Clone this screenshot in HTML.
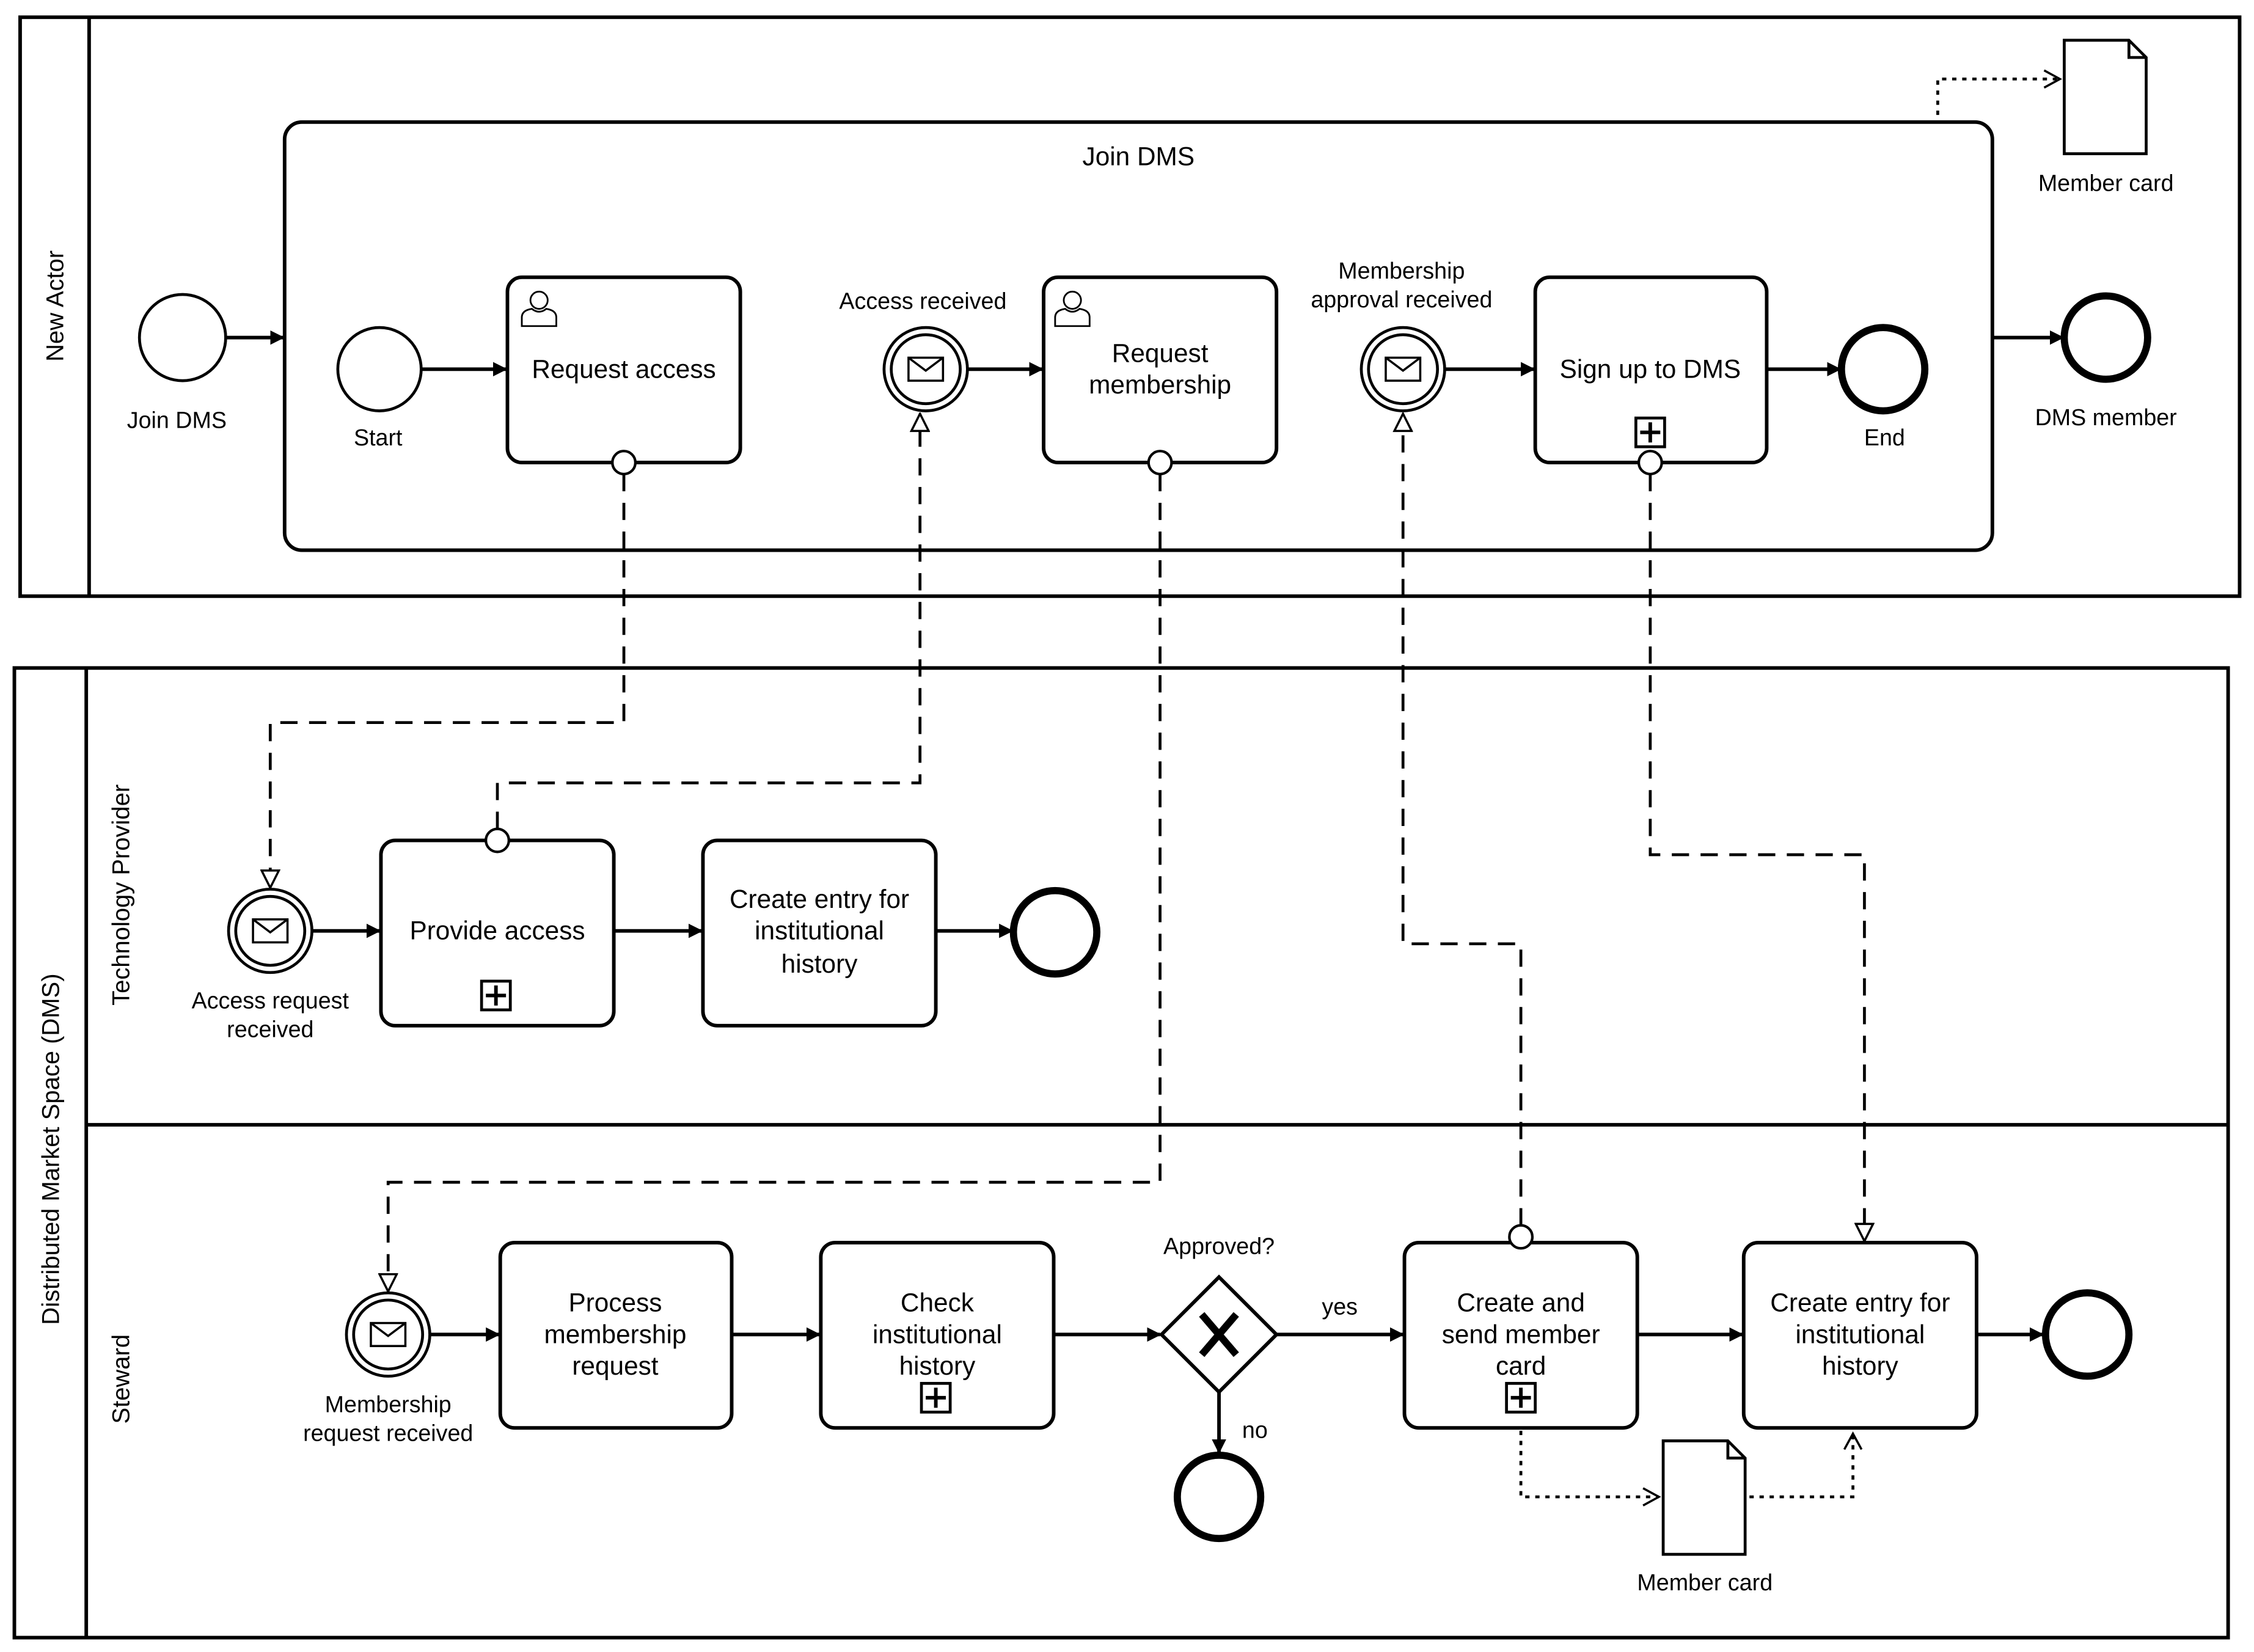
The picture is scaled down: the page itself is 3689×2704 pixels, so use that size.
<!DOCTYPE html>
<html><head><meta charset="utf-8"><style>
html,body{margin:0;padding:0;background:#fff}
svg{display:block}
text{font-family:"Liberation Sans",sans-serif;fill:#000}
</style></head><body>
<svg width="3689" height="2704" viewBox="0 0 1568 1150" preserveAspectRatio="none" xmlns="http://www.w3.org/2000/svg">
<defs>
<marker id="a" markerWidth="10" markerHeight="10" refX="9" refY="5" orient="auto" markerUnits="userSpaceOnUse"><path d="M0,0 L10,5 L0,10 Z" fill="#000"/></marker>
<marker id="m" markerWidth="14" markerHeight="14" refX="13" refY="7" orient="auto" markerUnits="userSpaceOnUse"><path d="M1,1 L13,7 L1,13 Z" fill="#fff" stroke="#000" stroke-width="1.5"/></marker>
<marker id="o" markerWidth="14" markerHeight="14" refX="12" refY="7" orient="auto" markerUnits="userSpaceOnUse"><path d="M1,1 L12,7 L1,13" fill="none" stroke="#000" stroke-width="1.5"/></marker>
<g id="env"><rect x="-12" y="-8" width="24" height="16" fill="#fff" stroke="#000" stroke-width="1.5"/><path d="M-12,-8 L0,1 L12,-8" fill="none" stroke="#000" stroke-width="1.5"/></g>
<g id="plus"><rect x="-10" y="-10" width="20" height="20" fill="#fff" stroke="#000" stroke-width="2"/><path d="M0,-7 V7 M-7,0 H7" stroke="#000" stroke-width="2.5"/></g>
<g id="user"><circle cx="0" cy="-6" r="6" fill="#fff" stroke="#000" stroke-width="1.2"/><path d="M-12,12 V6 Q-12,1 -5,0 Q0,4 5,0 Q12,1 12,6 V12 Z" fill="#fff" stroke="#000" stroke-width="1.2"/></g>
<g id="doc"><path d="M0,0 H45 L57,12 V79 H0 Z M45,0 V12 H57" fill="#fff" stroke="#000" stroke-width="2"/></g>
</defs>
<g fill="none" stroke="#000" stroke-width="2.5">
<!-- Pool 1 -->
<rect x="14" y="12" width="1544" height="403"/>
<line x1="62" y1="12" x2="62" y2="415"/>
<rect x="198" y="85" width="1188" height="298" rx="12"/>
<!-- Pool 2 -->
<rect x="10" y="465" width="1540" height="675"/>
<line x1="60" y1="465" x2="60" y2="1140"/>
<line x1="60" y1="783" x2="1550" y2="783"/>
</g>
<text transform="translate(44,213) rotate(-90)" font-size="17" text-anchor="middle">New Actor</text>
<text transform="translate(41,800) rotate(-90)" font-size="17" text-anchor="middle">Distributed Market Space (DMS)</text>
<text transform="translate(90,623) rotate(-90)" font-size="17" text-anchor="middle">Technology Provider</text>
<text transform="translate(90,960) rotate(-90)" font-size="17" text-anchor="middle">Steward</text>

<!-- tasks -->
<g fill="#fff" stroke="#000" stroke-width="2.5">
<rect x="353" y="193" width="162" height="129" rx="10"/>
<rect x="726" y="193" width="162" height="129" rx="10"/>
<rect x="1068" y="193" width="161" height="129" rx="10"/>
<rect x="265" y="585" width="162" height="129" rx="10"/>
<rect x="489" y="585" width="162" height="129" rx="10"/>
<rect x="348" y="865" width="161" height="129" rx="10"/>
<rect x="571" y="865" width="162" height="129" rx="10"/>
<rect x="977" y="865" width="162" height="129" rx="10"/>
<rect x="1213" y="865" width="162" height="129" rx="10"/>
</g>
<use href="#user" x="375" y="215"/>
<use href="#user" x="746" y="215"/>
<use href="#plus" x="1148" y="301"/>
<use href="#plus" x="345" y="693"/>
<use href="#plus" x="651" y="973"/>
<use href="#plus" x="1058" y="973"/>

<!-- events -->
<g fill="#fff" stroke="#000" stroke-width="2">
<circle cx="127" cy="235" r="30"/>
<circle cx="264" cy="257" r="29"/>
<circle cx="644" cy="257" r="29"/><circle cx="644" cy="257" r="24"/>
<circle cx="976" cy="257" r="29"/><circle cx="976" cy="257" r="24"/>
<circle cx="188" cy="648" r="29"/><circle cx="188" cy="648" r="24"/>
<circle cx="270" cy="929" r="29"/><circle cx="270" cy="929" r="24"/>
</g>
<g fill="#fff" stroke="#000" stroke-width="5">
<circle cx="1310" cy="257" r="29"/>
<circle cx="1465" cy="235" r="29"/>
<circle cx="734" cy="649" r="29"/>
<circle cx="848" cy="1042" r="29"/>
<circle cx="1452" cy="929" r="29"/>
</g>
<use href="#env" x="644" y="257"/>
<use href="#env" x="976" y="257"/>
<use href="#env" x="188" y="648"/>
<use href="#env" x="270" y="929"/>

<!-- gateway -->
<path d="M848,889 L888,929 L848,969 L808,929 Z" fill="#fff" stroke="#000" stroke-width="2.5"/>
<path d="M836,915 L860,943 M860,915 L836,943" stroke="#000" stroke-width="5"/>

<!-- sequence flows -->
<g stroke="#000" stroke-width="2.5" marker-end="url(#a)">
<line x1="157" y1="235" x2="197" y2="235"/>
<line x1="293" y1="257" x2="352" y2="257"/>
<line x1="673" y1="257" x2="725" y2="257"/>
<line x1="1005" y1="257" x2="1067" y2="257"/>
<line x1="1229" y1="257" x2="1280" y2="257"/>
<line x1="1386" y1="235" x2="1435" y2="235"/>
<line x1="217" y1="648" x2="264" y2="648"/>
<line x1="427" y1="648" x2="488" y2="648"/>
<line x1="651" y1="648" x2="704" y2="648"/>
<line x1="299" y1="929" x2="347" y2="929"/>
<line x1="509" y1="929" x2="570" y2="929"/>
<line x1="733" y1="929" x2="807" y2="929"/>
<line x1="888" y1="929" x2="976" y2="929"/>
<line x1="848" y1="969" x2="848" y2="1011"/>
<line x1="1139" y1="929" x2="1212" y2="929"/>
<line x1="1375" y1="929" x2="1421" y2="929"/>
</g>

<!-- message flows -->
<g fill="none" stroke="#000" stroke-width="2" stroke-dasharray="12 8">
<path d="M434,330 V503 H188 V618" marker-end="url(#m)"/>
<path d="M346,577 V545 H640 V288" marker-end="url(#m)"/>
<path d="M807,330 V823 H270 V899" marker-end="url(#m)"/>
<path d="M1058,853 V657 H976 V288" marker-end="url(#m)"/>
<path d="M1148,330 V595 H1297 V864" marker-end="url(#m)"/>
</g>
<g fill="#fff" stroke="#000" stroke-width="1.8">
<circle cx="434" cy="322" r="8"/>
<circle cx="807" cy="322" r="8"/>
<circle cx="1148" cy="322" r="8"/>
<circle cx="346" cy="585" r="8"/>
<circle cx="1058" cy="861" r="8"/>
</g>

<!-- data objects & associations -->
<use href="#doc" x="1436" y="28"/>
<use href="#doc" x="1157" y="1003"/>
<g fill="none" stroke="#000" stroke-width="2" stroke-dasharray="3 4">
<path d="M1348,80 V55 H1433" marker-end="url(#o)"/>
<path d="M1058,996 V1042 H1154" marker-end="url(#o)"/>
<path d="M1217,1042 H1289 V998" marker-end="url(#o)"/>
</g>

<!-- text -->
<g font-size="18" text-anchor="middle">
<text x="792" y="115">Join DMS</text>
<text x="434" y="263">Request access</text>
<text x="807" y="252">Request</text><text x="807" y="274">membership</text>
<text x="1148" y="263">Sign up to DMS</text>
<text x="346" y="654">Provide access</text>
<text x="570" y="632">Create entry for</text><text x="570" y="654">institutional</text><text x="570" y="677">history</text>
<text x="428" y="913">Process</text><text x="428" y="935">membership</text><text x="428" y="957">request</text>
<text x="652" y="913">Check</text><text x="652" y="935">institutional</text><text x="652" y="957">history</text>
<text x="1058" y="913">Create and</text><text x="1058" y="935">send member</text><text x="1058" y="957">card</text>
<text x="1294" y="913">Create entry for</text><text x="1294" y="935">institutional</text><text x="1294" y="957">history</text>
</g>
<g font-size="16" text-anchor="middle">
<text x="123" y="298">Join DMS</text>
<text x="263" y="310">Start</text>
<text x="642" y="215">Access received</text>
<text x="975" y="194">Membership</text><text x="975" y="214">approval received</text>
<text x="1311" y="310">End</text>
<text x="1465" y="296">DMS member</text>
<text x="1465" y="133">Member card</text>
<text x="188" y="702">Access request</text><text x="188" y="722">received</text>
<text x="270" y="983">Membership</text><text x="270" y="1003">request received</text>
<text x="848" y="873">Approved?</text>
<text x="932" y="915">yes</text>
<text x="873" y="1001">no</text>
<text x="1186" y="1107">Member card</text>
</g>
</svg>
</body></html>
